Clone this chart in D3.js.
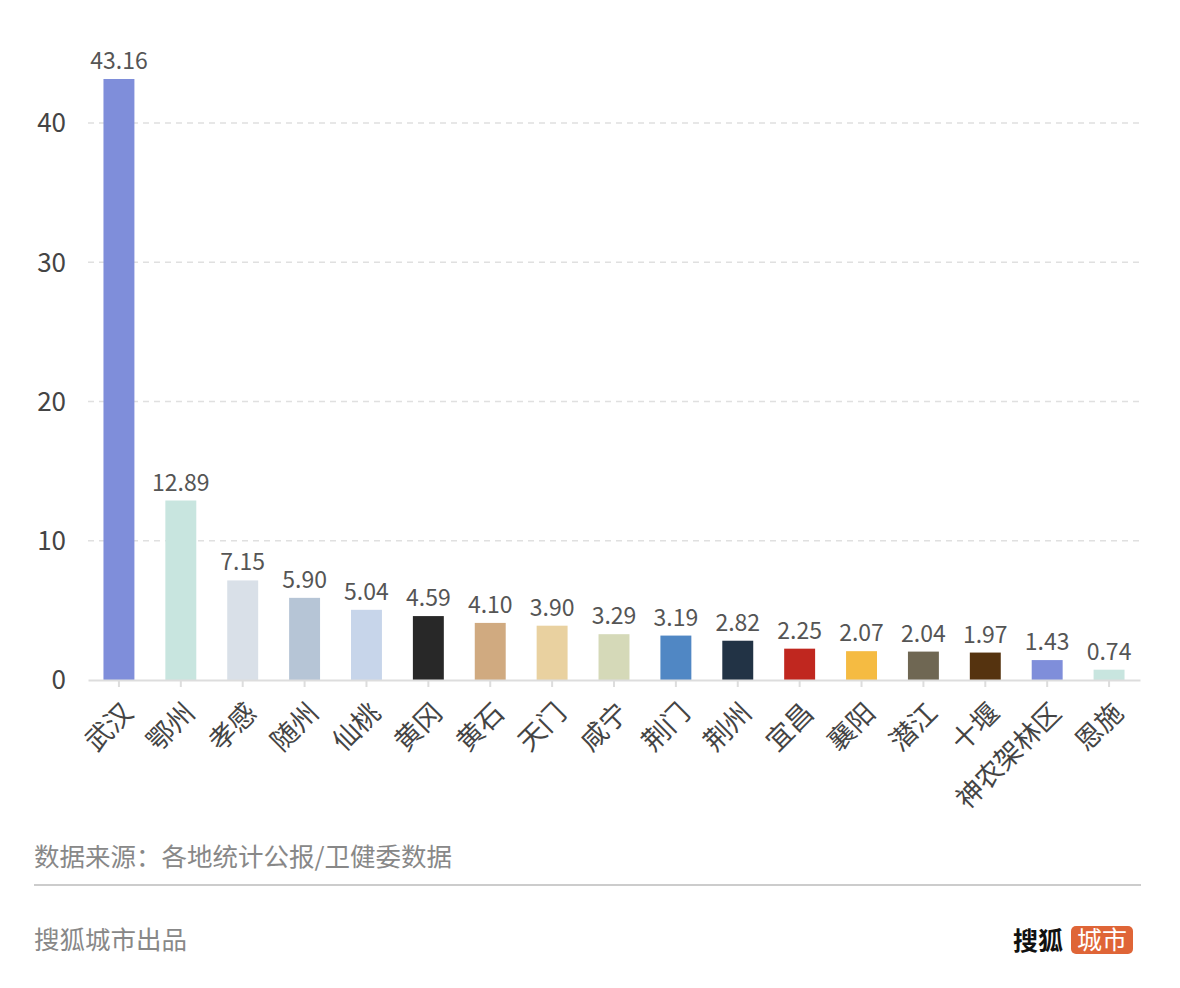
<!DOCTYPE html>
<html><head><meta charset="utf-8">
<script src="https://cdn.jsdelivr.net/npm/d3@7/dist/d3.min.js"></script>
<style>
body{margin:0;background:#fff;}
svg{display:block;font-family:"Noto Sans CJK SC","Noto Sans",sans-serif;}
</style></head>
<body>
<svg id="c" width="1180" height="988"></svg>
<script>
const categories = ["武汉","鄂州","孝感","随州","仙桃","黄冈","黄石","天门","咸宁","荆门","荆州","宜昌","襄阳","潜江","十堰","神农架林区","恩施"];
const values = [43.16,12.89,7.15,5.90,5.04,4.59,4.10,3.90,3.29,3.19,2.82,2.25,2.07,2.04,1.97,1.43,0.74];
const colors = ["#7f8eda","#c8e5df","#d9e0e8","#b6c5d6","#c7d5ea","#282828","#d0aa80","#e9d1a0","#d5d9b8","#5087c4","#223345","#c0271f","#f5bb42","#6f6753","#55330f","#7f8eda","#c8e5df"];
const yTicks = [0,10,20,30,40];
const sourceText = "数据来源：各地统计公报/卫健委数据";
const creditText = "搜狐城市出品";

const svg = d3.select("#c");
const x = d3.scaleBand().domain(categories).range([88,1140]).paddingInner(0.5).paddingOuter(0.25);
const y = d3.scaleLinear().domain([0,40]).range([680,123]);

// grid
svg.append("g").selectAll("line").data(yTicks.filter(d=>d>0)).join("line")
  .attr("x1",88).attr("x2",1140).attr("y1",d=>y(d)).attr("y2",d=>y(d))
  .attr("stroke","#e0e0e0").attr("stroke-width",1.5).attr("stroke-dasharray","6,5");

// y labels
svg.append("g").selectAll("text").data(yTicks).join("text")
  .attr("x",66).attr("y",d=>y(d)).attr("dy","0.36em").attr("text-anchor","end")
  .attr("font-size",26).attr("fill","#444").text(d=>d);

// bars
svg.append("g").selectAll("rect").data(categories).join("rect")
  .attr("x",d=>x(d)).attr("width",x.bandwidth())
  .attr("y",(d,i)=>y(values[i])).attr("height",(d,i)=>y(0)-y(values[i]))
  .attr("fill",(d,i)=>colors[i]);

// value labels
svg.append("g").selectAll("text").data(categories).join("text")
  .attr("x",d=>x(d)+x.bandwidth()/2).attr("y",(d,i)=>y(values[i])-10)
  .attr("text-anchor","middle").attr("font-size",23).attr("fill","#555")
  .text((d,i)=>values[i].toFixed(2));

// x axis
const xa = svg.append("g").attr("transform","translate(0,680)")
  .call(d3.axisBottom(x).tickSize(7).tickSizeOuter(0).tickFormat(""));
xa.select(".domain").attr("stroke","#dddddd").attr("stroke-width",2);
xa.selectAll(".tick line").attr("stroke","#dddddd").attr("stroke-width",2);

svg.append("g").selectAll("text").data(categories).join("text")
  .attr("transform",d=>`translate(${x(d)+x.bandwidth()/2+9},${708}) rotate(-45)`)
  .attr("text-anchor","end").attr("font-size",27).attr("fill","#444")
  .attr("dy","0.35em").text(d=>d);

// footer
svg.append("text").attr("x",34).attr("y",866).attr("font-size",25.5).attr("fill","#888").text(sourceText);
svg.append("line").attr("x1",34).attr("x2",1141).attr("y1",885).attr("y2",885).attr("stroke","#cccccc").attr("stroke-width",2);
svg.append("text").attr("x",34).attr("y",949).attr("font-size",25.5).attr("fill","#888").text(creditText);

// logo
svg.append("text").attr("x",1013).attr("y",950).attr("font-size",25).attr("font-weight","bold").attr("fill","#111").text("搜狐");
svg.append("rect").attr("x",1071).attr("y",926).attr("width",62).attr("height",28).attr("rx",5).attr("fill","#df6537");
svg.append("text").attr("x",1102).attr("y",949).attr("text-anchor","middle").attr("font-size",25).attr("fill","#fff").text("城市");
</script>
</body></html>
